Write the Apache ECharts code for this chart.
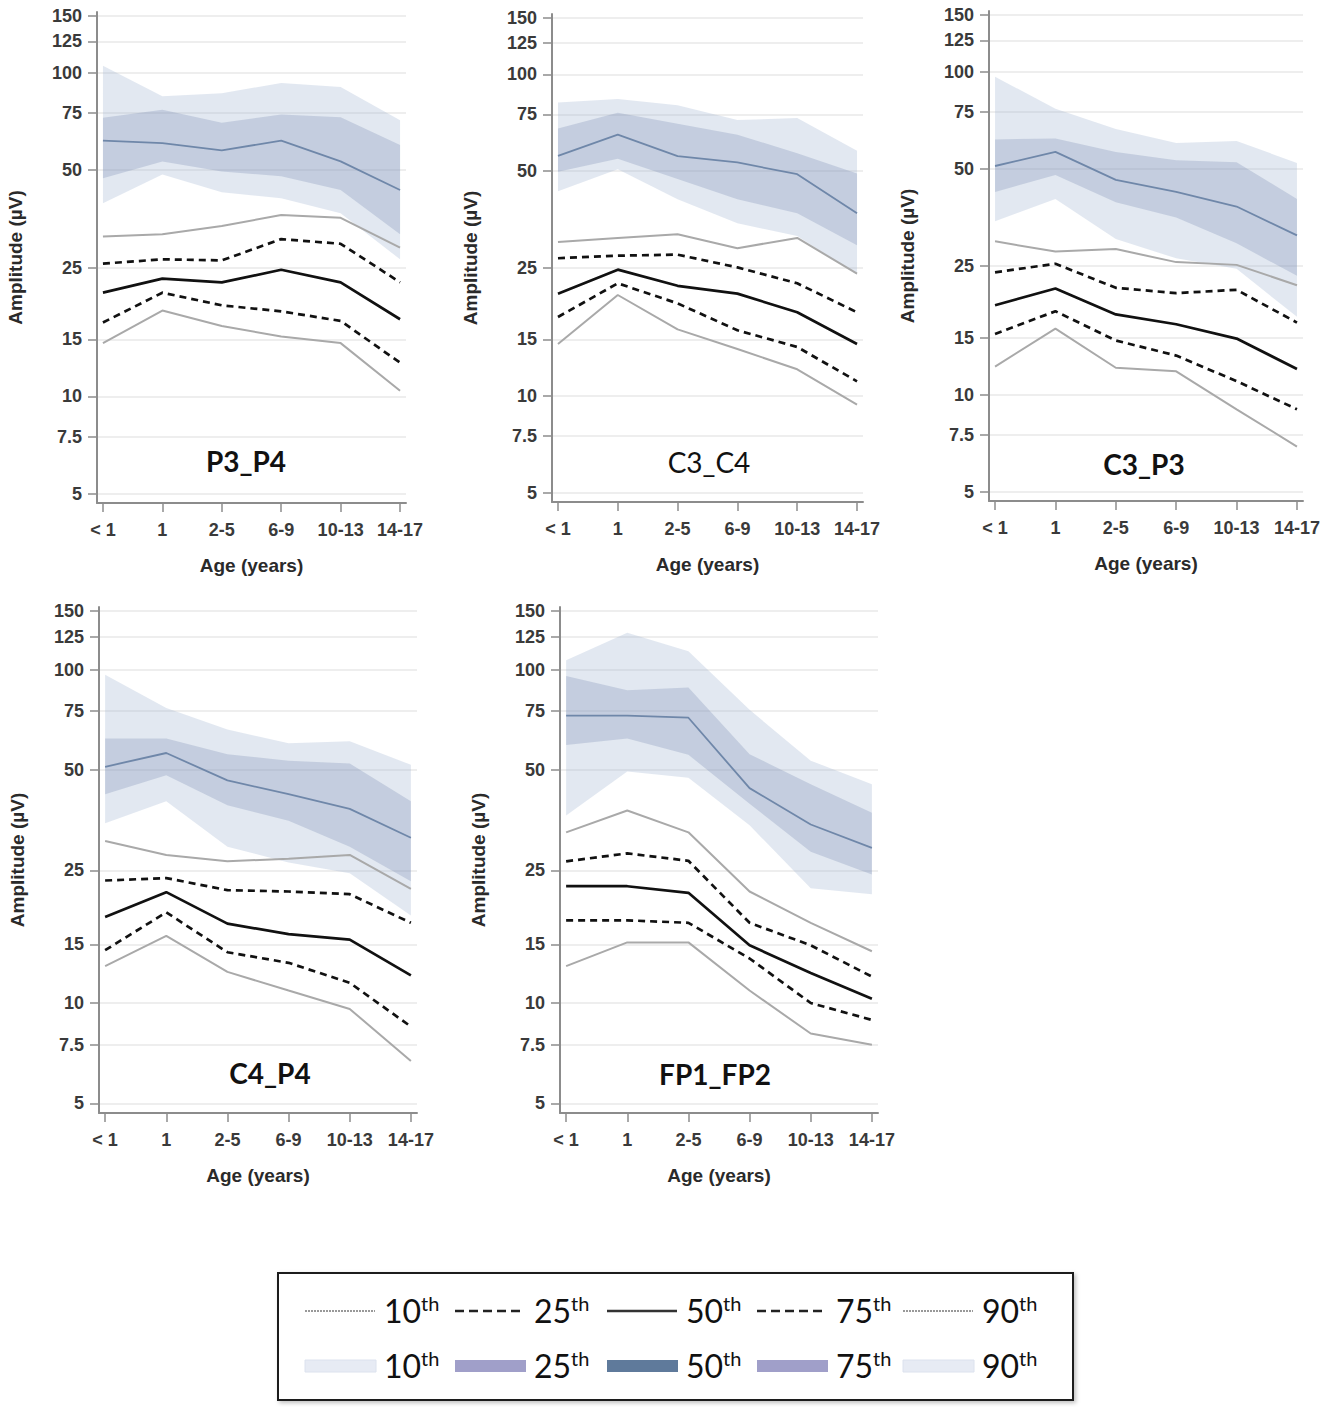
<!DOCTYPE html>
<html>
<head>
<meta charset="utf-8">
<script src="https://cdn.jsdelivr.net/npm/echarts@6/dist/echarts.min.js"></script>
<style>html,body{margin:0;padding:0;background:#fff}#chart{width:1325px;height:1407px}</style>
</head>
<body>
<div id="chart"></div>
<script>
// ---------- DATA ----------
const categories = ['< 1', '1', '2-5', '6-9', '10-13', '14-17'];
const yTickValues = [5, 7.5, 10, 15, 25, 50, 75, 100, 125, 150];
const panelNames = ['P3_P4', 'C3_C4', 'C3_P3', 'C4_P4', 'FP1_FP2'];
const percentileLabels = ['10', '25', '50', '75', '90'];

// P3_P4
const P3_P4_band90 = [105, 84.6, 86.4, 92.9, 90.3, 71.3];
const P3_P4_band75 = [72.6, 76.8, 70.0, 74.2, 72.8, 59.8];
const P3_P4_band50 = [61.7, 60.6, 57.5, 61.7, 53.2, 43.4];
const P3_P4_band25 = [47.2, 53.2, 49.5, 47.9, 43.4, 31.7];
const P3_P4_band10 = [39.5, 48.5, 42.7, 40.9, 36.8, 26.5];
const P3_P4_line90 = [31.2, 31.7, 33.6, 36.3, 35.6, 28.8];
const P3_P4_line75 = [25.7, 26.5, 26.3, 30.6, 29.6, 22.5];
const P3_P4_line50 = [20.9, 23.1, 22.5, 24.6, 22.5, 17.3];
const P3_P4_line25 = [16.9, 20.9, 19.1, 18.3, 17.1, 12.7];
const P3_P4_line10 = [14.6, 18.4, 16.5, 15.3, 14.6, 10.4];

// C3_C4
const C3_C4_band90 = [81.7, 83.8, 80.2, 72.1, 73.1, 57.9];
const C3_C4_band75 = [67.9, 76.0, 70.2, 64.9, 56.8, 49.2];
const C3_C4_band50 = [55.8, 64.9, 55.7, 53.2, 48.9, 37.0];
const C3_C4_band25 = [49.8, 54.6, 47.3, 40.9, 37.0, 29.4];
const C3_C4_band10 = [43.3, 50.7, 40.9, 34.4, 31.4, 23.8];
const C3_C4_line90 = [30.1, 31.0, 31.8, 28.8, 31.0, 24.0];
const C3_C4_line75 = [26.8, 27.3, 27.5, 25.1, 22.4, 18.2];
const C3_C4_line50 = [20.8, 24.7, 22.0, 20.8, 18.2, 14.5];
const C3_C4_line25 = [17.6, 22.4, 19.4, 16.0, 14.2, 11.1];
const C3_C4_line10 = [14.5, 20.6, 16.1, 14.0, 12.1, 9.4];

// C3_P3
const C3_P3_band90 = [96.4, 76.7, 66.4, 60.1, 61.0, 52.1];
const C3_P3_band75 = [61.6, 62.1, 56.4, 53.1, 52.4, 40.3];
const C3_P3_band50 = [51.0, 56.4, 46.2, 42.4, 38.2, 31.1];
const C3_P3_band25 = [42.4, 47.8, 39.4, 35.3, 29.4, 23.3];
const C3_P3_band10 = [34.4, 40.3, 30.3, 26.4, 24.5, 17.4];
const C3_P3_line90 = [29.8, 27.7, 28.2, 25.7, 25.2, 21.8];
const C3_P3_line75 = [23.9, 25.4, 21.4, 20.6, 21.1, 16.7];
const C3_P3_line50 = [18.9, 21.3, 17.7, 16.5, 14.9, 12.0];
const C3_P3_line25 = [15.4, 18.1, 14.7, 13.2, 11.0, 9.0];
const C3_P3_line10 = [12.2, 16.0, 12.1, 11.8, 9.0, 6.9];

// C4_P4
const C4_P4_band90 = [96.5, 76.7, 66.1, 60.1, 61.0, 51.8];
const C4_P4_band75 = [62.1, 62.1, 55.7, 53.3, 52.3, 40.3];
const C4_P4_band50 = [51.1, 56.2, 46.5, 42.3, 38.2, 31.3];
const C4_P4_band25 = [42.3, 48.2, 39.2, 35.2, 29.4, 23.2];
const C4_P4_band10 = [34.6, 40.3, 29.4, 26.4, 24.5, 18.3];
const C4_P4_line90 = [30.6, 27.8, 26.6, 27.1, 27.8, 22.0];
const C4_P4_line75 = [23.3, 23.7, 21.8, 21.6, 21.2, 17.4];
const C4_P4_line50 = [18.1, 21.5, 17.3, 16.1, 15.5, 12.1];
const C4_P4_line25 = [14.4, 18.7, 14.2, 13.2, 11.5, 8.5];
const C4_P4_line10 = [12.9, 15.9, 12.4, 10.9, 9.6, 6.7];

// FP1_FP2
const FP1_FP2_band90 = [106.7, 128.9, 113.5, 75.7, 53.3, 45.3];
const FP1_FP2_band75 = [95.7, 86.6, 88.3, 55.7, 45.3, 37.2];
const FP1_FP2_band50 = [72.7, 72.7, 71.7, 44.1, 34.3, 29.2];
const FP1_FP2_band25 = [59.4, 62.1, 55.5, 39.6, 28.4, 24.3];
const FP1_FP2_band10 = [36.5, 49.5, 47.4, 34.1, 22.1, 21.2];
const FP1_FP2_line90 = [32.5, 37.8, 32.5, 21.6, 17.4, 14.3];
const FP1_FP2_line75 = [26.6, 28.1, 26.7, 17.4, 14.9, 12.0];
const FP1_FP2_line50 = [22.4, 22.4, 21.4, 14.9, 12.3, 10.3];
const FP1_FP2_line25 = [17.7, 17.7, 17.4, 13.6, 10.0, 8.9];
const FP1_FP2_line10 = [12.9, 15.2, 15.2, 10.9, 8.1, 7.5];

// ---------- BUILD ----------
const panelData = [
  [P3_P4_band10, P3_P4_band25, P3_P4_band50, P3_P4_band75, P3_P4_band90, P3_P4_line10, P3_P4_line25, P3_P4_line50, P3_P4_line75, P3_P4_line90],
  [C3_C4_band10, C3_C4_band25, C3_C4_band50, C3_C4_band75, C3_C4_band90, C3_C4_line10, C3_C4_line25, C3_C4_line50, C3_C4_line75, C3_C4_line90],
  [C3_P3_band10, C3_P3_band25, C3_P3_band50, C3_P3_band75, C3_P3_band90, C3_P3_line10, C3_P3_line25, C3_P3_line50, C3_P3_line75, C3_P3_line90],
  [C4_P4_band10, C4_P4_band25, C4_P4_band50, C4_P4_band75, C4_P4_band90, C4_P4_line10, C4_P4_line25, C4_P4_line50, C4_P4_line75, C4_P4_line90],
  [FP1_FP2_band10, FP1_FP2_band25, FP1_FP2_band50, FP1_FP2_band75, FP1_FP2_band90, FP1_FP2_line10, FP1_FP2_line25, FP1_FP2_line50, FP1_FP2_line75, FP1_FP2_line90]
];

const layout = [
  {left: 97, top: 12, width: 309, height: 491, tx: 246, ty: 461, bold: true},
  {left: 552, top: 14, width: 311, height: 488, tx: 709, ty: 462, bold: false},
  {left: 989, top: 11, width: 314, height: 490, tx: 1144, ty: 464, bold: true},
  {left: 99, top: 607, width: 318, height: 506, tx: 270, ty: 1073, bold: true},
  {left: 560, top: 607, width: 318, height: 506, tx: 715, ty: 1074, bold: true}
];

const AXIS_FONT = '"Liberation Sans", Arial, sans-serif';
const TITLE_FONT = 'Lato, "Open Sans", sans-serif';
const outerBand = 'rgba(160,178,210,0.30)';
const innerBand = 'rgba(120,138,175,0.28)';
const blueLine = '#6f87a9';
const grayLine = '#a9a9a9';
const xTickIdx = categories.map((c, i) => i);

function fmtY(v) { return String(Math.round(v * 10) / 10); }

const grids = [], xAxes = [], yAxes = [], series = [], graphics = [];

function bandSeries(i, lo, hi, color) {
  return {
    type: 'custom', xAxisIndex: i, yAxisIndex: i, silent: true, z: 1,
    data: lo.map((v, j) => [j, v, hi[j]]),
    encode: {x: 0, y: [1, 2]},
    renderItem: function (params, api) {
      if (params.dataIndex !== 0) return null;
      const top = hi.map((v, j) => api.coord([j, v]));
      const bottom = lo.map((v, j) => api.coord([j, v])).reverse();
      return {type: 'polygon', shape: {points: top.concat(bottom)}, style: {fill: color}};
    }
  };
}
function lineSeries(i, name, arr, color, width, dash, z) {
  return {
    type: 'line', name: name, xAxisIndex: i, yAxisIndex: i, z: z, silent: true,
    symbol: 'none', animation: false,
    data: arr.map((v, j) => [j, v]),
    lineStyle: {color: color, width: width, type: dash || 'solid'}
  };
}

const tickLabelStyle = {fontSize: 18, fontWeight: 'bold', color: '#3a3a3a', fontFamily: AXIS_FONT};
const nameStyle = {fontSize: 19, fontWeight: 'bold', color: '#2a2a2a', fontFamily: AXIS_FONT};

layout.forEach((L, i) => {
  grids.push({left: L.left, top: L.top, width: L.width, height: L.height, containLabel: false});
  xAxes.push({
    type: 'value', gridIndex: i, min: -0.1, max: 5.1,
    axisLine: {show: true, onZero: false, lineStyle: {color: '#8c8c8c', width: 2}},
    axisTick: {show: true, customValues: xTickIdx, length: 9, lineStyle: {color: '#8c8c8c', width: 1.5}},
    axisLabel: Object.assign({customValues: xTickIdx, formatter: v => categories[Math.round(v)], margin: 18}, tickLabelStyle),
    splitLine: {show: false},
    name: 'Age (years)', nameLocation: 'middle', nameGap: 53,
    nameTextStyle: nameStyle
  });
  yAxes.push({
    type: 'log', logBase: 10, gridIndex: i, min: 4.68, max: 154,
    axisLine: {show: true, onZero: false, lineStyle: {color: '#8c8c8c', width: 2}},
    axisTick: {show: true, customValues: yTickValues, length: 9, lineStyle: {color: '#8c8c8c', width: 1.5}},
    axisLabel: Object.assign({customValues: yTickValues, formatter: fmtY, margin: 15}, tickLabelStyle),
    splitLine: {show: true, lineStyle: {color: '#e8e8e8', width: 1.5}},
    name: 'Amplitude (µV)', nameLocation: 'middle', nameGap: 72,
    nameTextStyle: nameStyle
  });
  const d = panelData[i];
  series.push(bandSeries(i, d[0], d[4], outerBand));
  series.push(bandSeries(i, d[1], d[3], innerBand));
  series.push(lineSeries(i, 'band 50th', d[2], blueLine, 1.8, 'solid', 3));
  series.push(lineSeries(i, '10th', d[5], grayLine, 2, 'solid', 4));
  series.push(lineSeries(i, '90th', d[9], grayLine, 2, 'solid', 4));
  series.push(lineSeries(i, '25th', d[6], '#111', 2.7, [7, 5], 5));
  series.push(lineSeries(i, '75th', d[8], '#111', 2.7, [7, 5], 5));
  series.push(lineSeries(i, '50th', d[7], '#111', 2.7, 'solid', 5));
  graphics.push({
    type: 'text', x: L.tx, y: L.ty, z: 10,
    style: {text: panelNames[i], align: 'center', verticalAlign: 'middle',
      font: (L.bold ? 'bold ' : '') + '28px ' + TITLE_FONT, fill: '#111'}
  });
});

// Legend (graphic)
graphics.push({
  type: 'rect', shape: {x: 278, y: 1273, width: 795, height: 127}, z: 10,
  style: {fill: '#fff', stroke: '#1a1a1a', lineWidth: 2, shadowColor: 'rgba(0,0,0,0.25)', shadowBlur: 4, shadowOffsetX: 2, shadowOffsetY: 2}
});
const legX = [305, 455, 607, 757, 903];
const row1Styles = [
  {stroke: '#999', lineWidth: 2, lineDash: [2, 1]},
  {stroke: '#222', lineWidth: 2.5, lineDash: [9, 5]},
  {stroke: '#333', lineWidth: 2.5},
  {stroke: '#222', lineWidth: 2.5, lineDash: [9, 5]},
  {stroke: '#999', lineWidth: 2, lineDash: [2, 1]}
];
const row2Colors = ['#e7ebf4', '#a09fc9', '#5f7a9b', '#a09fc9', '#e7ebf4'];
percentileLabels.forEach((p, k) => {
  const x = legX[k];
  graphics.push({type: 'line', z: 11, shape: {x1: x, y1: 1311, x2: x + 70, y2: 1311}, style: row1Styles[k]});
  graphics.push({type: 'rect', z: 11, shape: {x: x, y: 1360, width: 71, height: 12},
    style: {fill: row2Colors[k], stroke: k === 0 || k === 4 ? '#dce2ee' : null, lineWidth: 1}});
  [1310, 1365].forEach(yy => {
    graphics.push({
      type: 'text', z: 11, x: x + 79, y: yy,
      style: {text: '{n|' + p + '}{s|th}', verticalAlign: 'middle', align: 'left',
        rich: {
          n: {fontSize: 32, fontFamily: TITLE_FONT, fill: '#111', lineHeight: 34},
          s: {fontSize: 20, fontFamily: TITLE_FONT, fill: '#111', verticalAlign: 'top', lineHeight: 20}
        }}
    });
  });
});

const chart = echarts.init(document.getElementById('chart'), null, {renderer: 'svg'});
chart.setOption({
  animation: false,
  backgroundColor: '#fff',
  grid: grids, xAxis: xAxes, yAxis: yAxes, series: series, graphic: graphics
});
</script>
</body>
</html>
